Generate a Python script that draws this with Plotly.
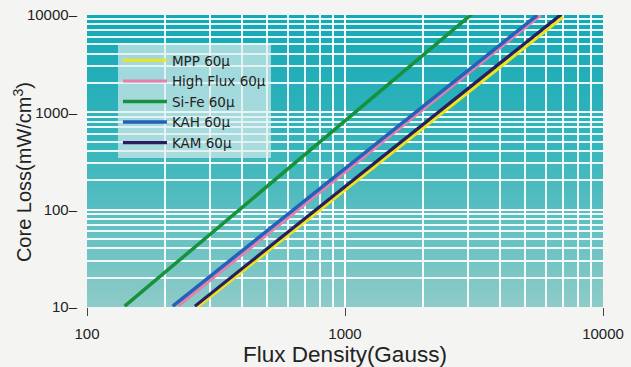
import base64
import plotly.graph_objects as go

# Series (start at ~10 mW/cm3, end at ~10000 mW/cm3)
series_names = ["MPP 60\u00b5", "High Flux 60\u00b5", "Si-Fe 60\u00b5", "KAH 60\u00b5", "KAM 60\u00b5"]
mpp_flux = [268, 7000]
mpp_loss = [10, 9500]
highflux_flux = [226, 5750]
highflux_loss = [10.3, 10000]
sife_flux = [140, 3100]
sife_loss = [10.2, 10200]
kah_flux = [215, 5550]
kah_loss = [10.2, 9900]
kam_flux = [262, 6900]
kam_loss = [10.2, 10200]

x_tick_vals = [100, 1000, 10000]
x_tick_text = ["100", "1000", "10000"]
y_tick_vals = [10, 100, 1000, 10000]
y_tick_text = ["10\u2013", "100\u2013", "1000\u2013", "10000\u2013"]

colors = ["#f2e21c", "#e67fae", "#17923a", "#2262b8", "#28205e"]
widths = [3, 3, 3.5, 3.5, 3.2]

xs = [mpp_flux, highflux_flux, sife_flux, kah_flux, kam_flux]
ys = [mpp_loss, highflux_loss, sife_loss, kah_loss, kam_loss]

fig = go.Figure()
for name, x, y, c, w in zip(series_names, xs, ys, colors, widths):
    fig.add_trace(go.Scatter(x=x, y=y, mode="lines", name=name,
                             line=dict(color=c, width=w)))

svg = ('<svg xmlns="http://www.w3.org/2000/svg" width="10" height="100" preserveAspectRatio="none">'
       '<defs><linearGradient id="g" x1="0" y1="0" x2="0" y2="1">'
       '<stop offset="0" stop-color="#14a9b6"/>'
       '<stop offset="0.45" stop-color="#36b5bc"/>'
       '<stop offset="1" stop-color="#8ecbc8"/>'
       '</linearGradient></defs><rect width="10" height="100" fill="url(#g)"/></svg>')
src = "data:image/svg+xml;base64," + base64.b64encode(svg.encode()).decode()

font_family = "Liberation Sans, Arial, sans-serif"
legend_family = "DejaVu Sans, Liberation Sans, sans-serif"
grid_c = "rgba(255,255,255,0.9)"

fig.update_layout(
    width=631, height=367,
    margin=dict(l=87, r=28, t=15, b=60),
    paper_bgcolor="#f4f4f2",
    plot_bgcolor="rgba(0,0,0,0)",
    font=dict(family=font_family, color="#222222", size=15),
    images=[dict(source=src, xref="paper", yref="paper", x=0, y=1,
                 sizex=1, sizey=1, sizing="stretch", layer="below",
                 xanchor="left", yanchor="top")],
    showlegend=True,
    legend=dict(x=0.06, y=0.897, xanchor="left", yanchor="top",
                bgcolor="rgba(222,238,238,0.68)", borderwidth=0,
                font=dict(size=13.5, color="#222222", family=legend_family),
                itemwidth=44, tracegroupgap=0),
    xaxis=dict(type="log", range=[2, 4], tickmode="array",
               tickvals=x_tick_vals, ticktext=x_tick_text,
               tickfont=dict(size=15), automargin=False,
               ticks="outside", ticklen=8, tickcolor="#444", tickwidth=1,
               ticklabelstandoff=5,
               showgrid=True, gridcolor=grid_c, gridwidth=2,
               minor=dict(dtick="D1", showgrid=True,
                          gridcolor=grid_c, gridwidth=1.6, ticks=""),
               zeroline=False, showline=False,
               title=dict(text="Flux Density(Gauss)", font=dict(size=22.5), standoff=0)),
    yaxis=dict(type="log", range=[1, 4], tickmode="array",
               tickvals=y_tick_vals, ticktext=y_tick_text,
               tickfont=dict(size=15), automargin=False,
               ticks="", ticklabelstandoff=9,
               showgrid=True, gridcolor=grid_c, gridwidth=2,
               minor=dict(dtick="D1", showgrid=True,
                          gridcolor=grid_c, gridwidth=1.6, ticks=""),
               zeroline=False, showline=False),
    annotations=[dict(text="Core Loss(mW/cm<sup>3</sup>)", textangle=-90,
                      xref="paper", yref="paper", x=-0.126, y=0.462,
                      xanchor="center", yanchor="middle", showarrow=False,
                      font=dict(size=20, family=font_family, color="#222222"))],
)

fig.write_html("out.html", config={"displayModeBar": False},
               post_script="document.body.style.margin='0px';document.body.style.overflow='hidden';")
